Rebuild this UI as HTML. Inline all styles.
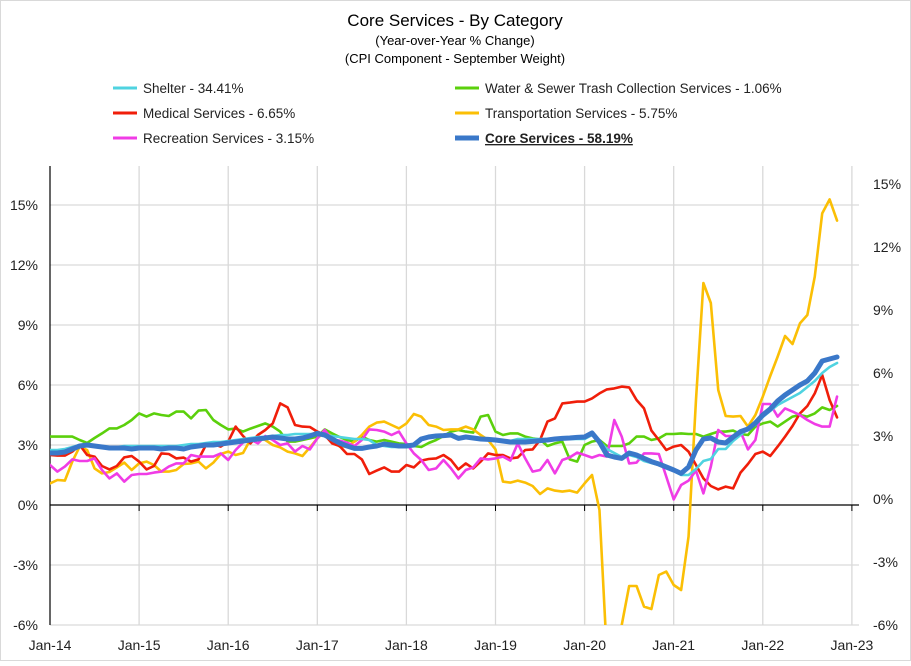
<!DOCTYPE html>
<html><head><meta charset="utf-8">
<style>
html,body{margin:0;padding:0;background:#fff;}
body{width:911px;height:661px;overflow:hidden;font-family:"Liberation Sans",sans-serif;}
svg text{font-family:"Liberation Sans",sans-serif;}
</style></head>
<body>
<svg id="chart" width="911" height="661" viewBox="0 0 911 661" xmlns="http://www.w3.org/2000/svg">
<rect x="0.5" y="0.5" width="910" height="660" fill="#fff" stroke="#d9d9d9"/>
<text x="455" y="26" text-anchor="middle" font-size="17" fill="#000">Core Services - By Category</text>
<text x="455" y="45" text-anchor="middle" font-size="13" fill="#000">(Year-over-Year % Change)</text>
<text x="455" y="63" text-anchor="middle" font-size="13" fill="#000">(CPI Component - September Weight)</text>
<g id="legend"></g>
<g id="grid"></g>
<g id="axes"></g>
<defs><clipPath id="plotclip"><rect x="50" y="166" width="809" height="459"/></clipPath></defs>
<g id="series" clip-path="url(#plotclip)"></g>
</svg>
<script>
const yearLabels=["Jan-14","Jan-15","Jan-16","Jan-17","Jan-18","Jan-19","Jan-20","Jan-21","Jan-22","Jan-23"];
const leftTicks=[15,12,9,6,3,0,-3,-6];
const rightTicks=[15,12,9,6,3,0,-3,-6];
const seriesNames=["Shelter - 34.41%","Water & Sewer Trash Collection Services - 1.06%","Medical Services - 6.65%","Transportation Services - 5.75%","Recreation Services - 3.15%","Core Services - 58.19%"];
const seriesColors=["#4fd3e0","#5bd00c","#f01e0a","#fbbf05","#f03ce6","#3a78c9"];
const shelter=[2.75,2.75,2.8,2.9,3.0,3.0,2.95,2.95,2.9,2.9,2.95,2.95,
2.95,2.95,2.95,2.95,2.95,2.95,3.0,3.05,3.05,3.1,3.15,3.15,
3.2,3.25,3.3,3.35,3.4,3.4,3.45,3.5,3.5,3.55,3.55,3.55,
3.55,3.5,3.45,3.4,3.35,3.3,3.3,3.25,3.0,2.95,2.9,2.9,
2.95,3.0,3.3,3.4,3.45,3.45,3.45,3.4,3.4,3.35,3.3,3.25,
3.2,3.2,3.2,3.3,3.3,3.3,3.3,3.3,3.3,3.35,3.3,3.3,
3.3,3.5,3.2,2.8,2.6,2.4,2.5,2.4,2.2,2.1,2.0,1.9,
1.7,1.5,1.5,1.8,2.2,2.3,2.8,2.8,3.2,3.5,3.8,4.0,
4.4,4.7,5.0,5.2,5.4,5.6,5.9,6.2,6.6,6.9,7.1];
const water=[3.42,3.42,3.42,3.42,3.25,3.1,3.35,3.58,3.83,3.83,4.0,4.25,
4.58,4.42,4.58,4.5,4.45,4.67,4.67,4.33,4.72,4.75,4.25,4.0,
3.78,3.82,3.67,3.82,3.95,4.08,3.92,3.67,3.17,3.17,3.25,3.33,
3.42,3.78,3.58,3.4,3.25,3.17,3.42,3.25,3.17,3.25,3.17,3.08,
3.05,2.95,2.9,3.1,3.25,3.45,3.67,3.75,3.67,3.62,4.42,4.5,
3.67,3.5,3.58,3.58,3.42,3.33,3.28,2.95,3.08,3.17,2.28,2.17,
3.0,3.17,3.25,2.95,2.95,2.95,3.08,3.42,3.42,3.25,3.33,3.55,
3.55,3.58,3.55,3.55,3.42,3.55,3.67,3.67,3.72,3.55,3.5,3.92,
4.08,4.17,3.92,4.17,4.42,4.5,4.42,4.58,4.88,4.75,4.95];
const medical=[2.5,2.47,2.47,2.67,3.0,2.5,2.42,1.95,1.78,1.95,2.38,2.45,
2.17,1.78,1.95,2.58,2.55,2.33,2.37,2.17,2.28,3.0,3.05,2.92,
3.17,3.92,3.45,3.08,3.5,3.75,4.08,5.08,4.88,4.0,3.92,3.9,
3.67,3.5,3.08,2.95,2.55,2.55,2.28,1.55,1.72,1.88,1.67,1.67,
2.0,1.88,2.22,2.3,2.33,2.5,2.25,1.78,2.08,1.83,2.17,2.58,
2.5,2.5,2.33,2.38,2.75,2.78,3.25,4.17,4.33,5.08,5.12,5.17,
5.17,5.33,5.58,5.78,5.83,5.92,5.88,5.25,4.83,3.72,3.25,2.75,
2.92,3.0,2.67,2.0,1.33,0.95,0.78,0.92,0.83,1.62,2.05,2.55,
2.67,2.45,2.92,3.42,3.95,4.58,4.95,5.58,6.5,5.25,4.38];
const transport=[1.08,1.25,1.22,2.17,2.92,2.75,1.83,1.58,1.65,1.88,2.12,1.75,
2.08,2.17,2.0,1.67,1.67,1.75,2.05,2.08,2.17,1.83,2.12,2.55,
2.67,2.5,2.6,3.28,3.38,3.25,3.0,2.88,2.67,2.58,2.45,2.88,
3.33,3.67,3.42,2.92,2.92,3.17,3.5,3.92,4.12,4.17,4.0,3.83,
4.08,4.55,4.42,4.0,3.92,3.75,3.78,3.78,3.92,3.78,3.5,3.25,
2.78,1.17,1.12,1.22,1.12,0.95,0.55,0.83,0.72,0.67,0.72,0.62,
1.08,1.5,-0.25,-7.5,-8.0,-6.0,-4.05,-4.05,-5.08,-5.2,-3.5,-3.33,
-4.0,-4.25,-1.58,5.25,11.1,10.1,5.75,4.45,4.42,4.45,3.92,4.5,
5.42,6.45,7.42,8.45,8.05,9.08,9.5,11.42,14.58,15.28,14.22];
const recreation=[2.0,1.67,1.92,2.28,2.2,2.2,2.33,1.75,1.33,1.58,1.17,1.5,
1.55,1.55,1.62,1.67,1.92,2.08,2.08,2.5,2.42,2.42,2.42,2.58,
2.25,2.75,3.12,3.28,3.08,3.45,3.25,3.0,3.08,2.67,2.95,2.78,
3.33,3.75,3.28,3.22,3.12,2.95,3.25,3.78,3.75,3.67,3.5,3.67,
3.08,2.58,2.25,1.75,1.83,2.25,1.83,1.33,1.75,1.88,2.33,2.28,
2.33,2.42,2.22,3.08,2.33,1.67,1.75,2.25,1.58,2.25,2.38,2.62,
2.5,2.37,2.5,2.42,4.25,3.42,2.08,2.12,2.58,2.58,2.55,1.42,
0.28,1.0,1.22,1.72,0.58,1.92,3.75,3.45,3.45,3.67,2.78,3.25,
5.05,5.05,4.42,4.83,4.67,4.5,4.25,4.05,3.92,3.92,5.42];
const core=[2.6,2.6,2.65,2.8,2.95,3.0,2.95,2.9,2.85,2.85,2.85,2.8,
2.85,2.85,2.85,2.8,2.85,2.85,2.8,2.9,2.95,3.0,3.0,3.05,
3.1,3.15,3.2,3.25,3.3,3.35,3.4,3.35,3.3,3.3,3.35,3.45,
3.58,3.5,3.3,3.1,2.95,2.83,2.83,2.9,2.95,3.05,3.0,2.95,
2.95,3.0,3.3,3.4,3.45,3.47,3.5,3.33,3.4,3.35,3.3,3.28,
3.25,3.2,3.15,3.15,3.15,3.18,3.22,3.25,3.3,3.33,3.35,3.38,
3.4,3.6,3.15,2.5,2.4,2.33,2.6,2.5,2.33,2.17,2.05,1.9,
1.75,1.58,1.9,2.75,3.3,3.35,3.15,3.1,3.4,3.67,3.8,4.1,
4.5,4.8,5.2,5.5,5.75,6.0,6.2,6.6,7.2,7.3,7.4];
const seriesData=[shelter,water,medical,transport,recreation,core];

const NS="http://www.w3.org/2000/svg";
const X0=50,X1=859,YT=166,YB=625,MONTH=89.1/12;
const xOf=i=>X0+i*MONTH;
const yL=v=>505-20*v;
const yR=v=>499-21*v;
function mk(tag,attrs,parent){const e=document.createElementNS(NS,tag);for(const k in attrs)e.setAttribute(k,attrs[k]);parent.appendChild(e);return e;}
const grid=document.getElementById('grid'),axes=document.getElementById('axes'),ser=document.getElementById('series'),leg=document.getElementById('legend');

leftTicks.forEach(t=>{
  if(t!==0){const g=mk('line',{x1:X0,x2:X1,y1:yL(t),y2:yL(t),stroke:'#d9d9d9','stroke-width':1.3},grid);
  
  }
  const tx=mk('text',{x:38,y:yL(t)+5,'text-anchor':'end','font-size':14,fill:'#222'},axes);
  tx.textContent=t+'%';
  
  
});
rightTicks.forEach(t=>{
  const tx=mk('text',{x:873,y:yR(t)+5,'font-size':14,fill:'#222'},axes);
  tx.textContent=t+'%';
  
  
});
yearLabels.forEach((l,k)=>{
  const x=xOf(k*12);
  if(k>0){const g=mk('line',{x1:x,x2:x,y1:YT,y2:YB,stroke:'#d9d9d9','stroke-width':1.3},grid);
  
  
  const tk=mk('line',{x1:x,x2:x,y1:505,y2:511,stroke:'#000','stroke-width':1},axes);
  
  }
  const tx=mk('text',{x:x,y:650,'text-anchor':'middle','font-size':14,fill:'#222'},axes);
  tx.textContent=l;
  
  
});
const ya=mk('line',{x1:X0,x2:X0,y1:YT,y2:YB,stroke:'#000','stroke-width':1.2},axes);


const xa=mk('line',{x1:X0,x2:X1,y1:505,y2:505,stroke:'#000','stroke-width':1.2},axes);



const slugs=['shelter','water-sewer-trash','medical-services','transportation-services','recreation-services','core-services'];
const drawOrder=[1,3,2,4,0,5];
drawOrder.forEach(s=>{
  const d=seriesData[s].map((v,i)=>(i?'L':'M')+xOf(i).toFixed(2)+' '+yL(v).toFixed(2)).join(' ');
  const p=mk('path',{d:d,fill:'none',stroke:seriesColors[s],'stroke-width':s===5?5:2.6,'stroke-linejoin':'round','stroke-linecap':'round'},ser);
  
  
});

const legPos=[[113,88],[455,88],[113,113],[455,113],[113,138],[455,138]];
const legOrder=[0,1,2,3,4,5];
legOrder.forEach((s,k)=>{
  const [x,y]=legPos[k];
  const g=mk('g',{},leg);
  
  
  mk('line',{x1:x,x2:x+24,y1:y,y2:y,stroke:seriesColors[s],'stroke-width':s===5?5:3},g);
  const t=mk('text',{x:x+30,y:y+5,'font-size':13.5,fill:'#222'},g);
  if(s===5){t.setAttribute('font-weight','bold');t.setAttribute('text-decoration','underline');}
  t.textContent=seriesNames[s];
});
</script>
</body></html>
